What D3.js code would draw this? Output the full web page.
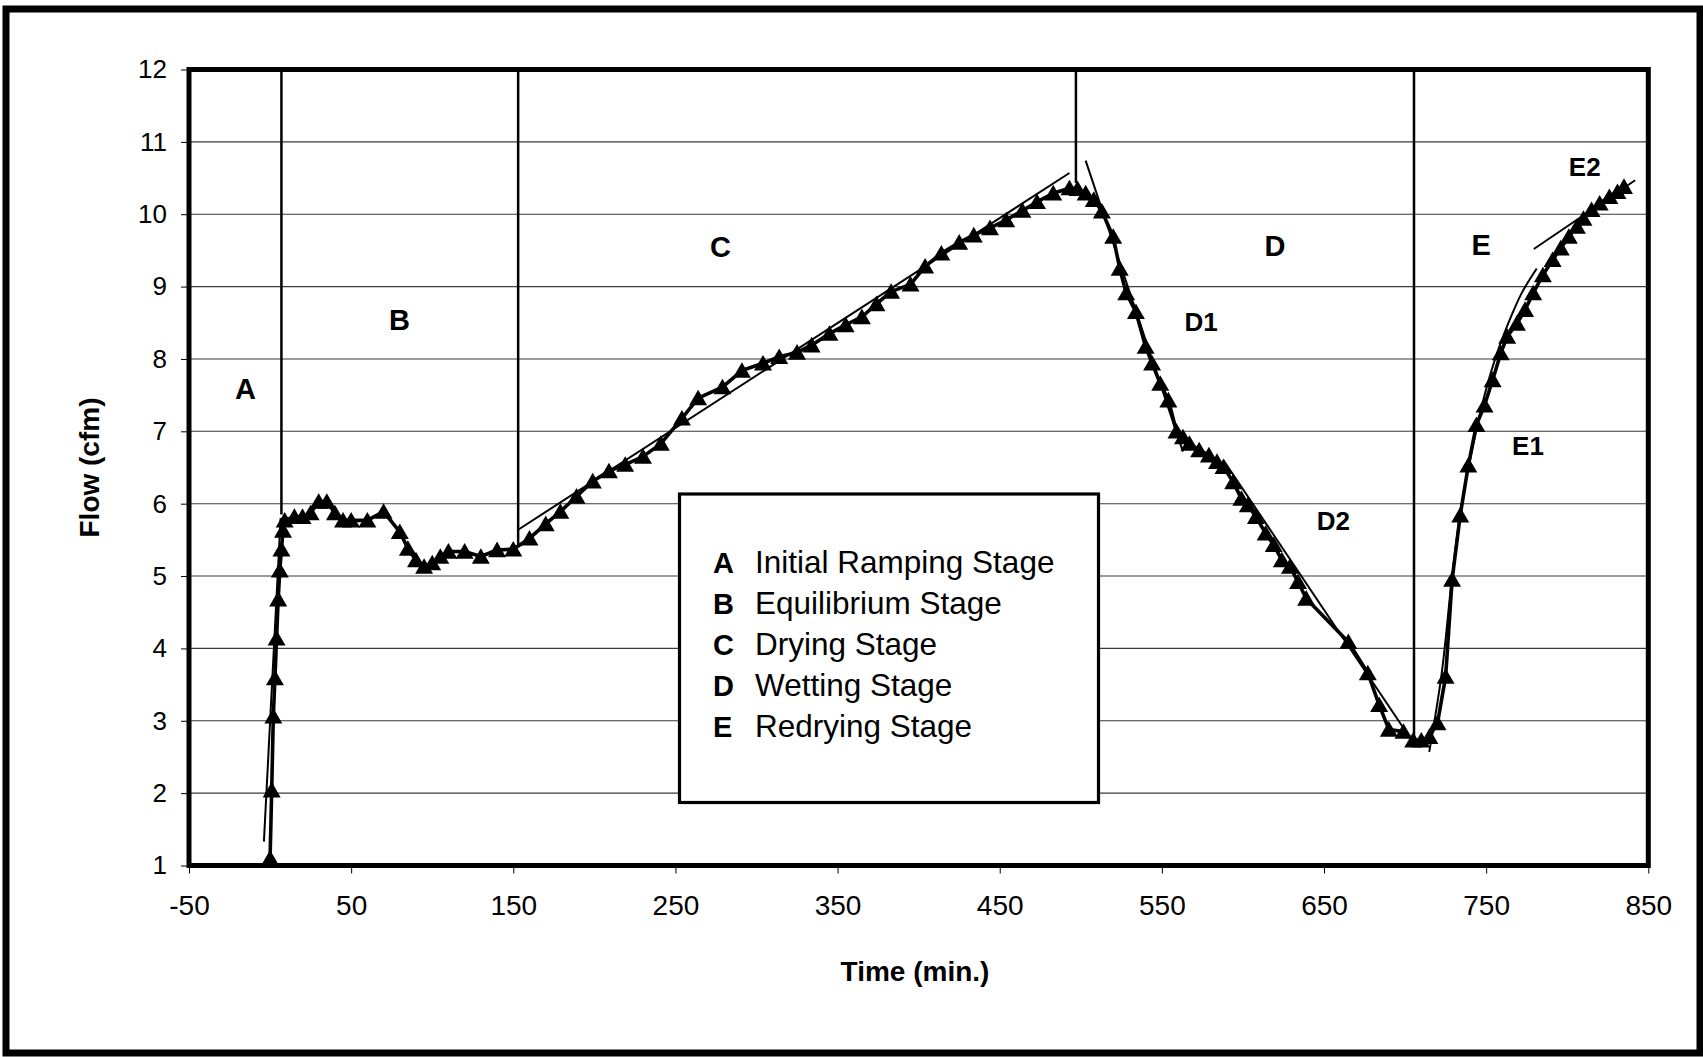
<!DOCTYPE html>
<html>
<head>
<meta charset="utf-8">
<script src="https://cdn.jsdelivr.net/npm/d3@7"></script>
<style>
  body { margin: 0; background: #fff; }
  svg { display: block; font-family: "Liberation Sans", Arial, sans-serif; }
</style>
</head>
<body>
<svg id="chart" width="1703" height="1057"></svg>
<script>
"use strict";

const times = [
  0, 1, 2, 3, 4, 5, 6, 7, 8, 9,
  15, 20, 25, 30, 35, 40, 45, 50, 60, 70, 80, 85, 90, 95, 100, 105, 110, 120, 130, 140, 150,
  160, 170, 179, 189, 199, 209, 219, 230, 241, 254, 264, 279, 291, 304, 314, 325, 334, 345,
  355, 365, 374, 383, 395, 404, 414, 425, 434, 444, 454, 464, 473, 483, 493,
  498, 503, 508, 513, 520, 524, 528, 534, 540, 544, 549, 554, 559, 563, 567, 573, 579, 584,
  588, 594, 599, 603, 608, 614, 619, 624, 629, 634, 639, 665, 677, 684, 690, 699, 705, 710,
  715, 720, 725, 729, 734, 739, 744, 749, 754, 759, 763, 769, 774, 779, 785, 791, 796, 801,
  806, 810, 815, 820, 826, 831, 835
];
const flows = [
  1.1, 2.04, 3.06, 3.59, 4.14, 4.68, 5.08, 5.37, 5.63, 5.77,
  5.82, 5.82, 5.87, 6.03, 6.03, 5.87, 5.77, 5.77, 5.77, 5.89, 5.61, 5.38, 5.22, 5.13, 5.18, 5.27, 5.34, 5.34, 5.27, 5.36, 5.37,
  5.52, 5.72, 5.89, 6.10, 6.31, 6.45, 6.54, 6.65, 6.83, 7.18, 7.46, 7.61, 7.84, 7.94, 8.03, 8.09, 8.19, 8.35,
  8.47, 8.58, 8.76, 8.93, 9.03, 9.28, 9.46, 9.61, 9.71, 9.81, 9.92, 10.05, 10.17, 10.29, 10.36,
  10.35, 10.29, 10.2, 10.04, 9.69, 9.25, 8.91, 8.65, 8.17, 7.94, 7.66, 7.43, 7.0, 6.92, 6.83, 6.74, 6.67, 6.58,
  6.51, 6.30, 6.07, 5.98, 5.82, 5.59, 5.43, 5.22, 5.13, 4.92, 4.69, 4.09, 3.66, 3.22, 2.88, 2.85, 2.73, 2.73,
  2.78, 2.97, 3.61, 4.95, 5.84, 6.53, 7.09, 7.36, 7.71, 8.08, 8.31, 8.49, 8.68, 8.91, 9.16, 9.37, 9.53, 9.69,
  9.83, 9.94, 10.06, 10.15, 10.24, 10.31, 10.38
];

// straight fit lines [t, flow] and the curved E1 fit
const fitA = [[-3.8, 1.33], [6.5, 5.8]];
const fitC = [[153, 5.64], [493, 10.57]];
const fitD1 = [[503, 10.74], [563, 6.72]];
const fitD2 = [[588, 6.6], [705, 2.7]];
const fitE1 = [[714.9, 2.57], [722.6, 3.66], [728.8, 4.95], [733.9, 5.84], [740.5, 6.65],
  [747.2, 7.34], [755.4, 7.99], [763.6, 8.49], [771.9, 8.91], [781.2, 9.25]];
const fitE2 = [[779.4, 9.52], [841.9, 10.47]];

// stage boundaries (time) and where each line stops
const dividerTimes = [7, 153, 497, 705.5];
const dividerEnds = [5.85, 5.4, 10.43, 2.72];

// labels inside the plot
const stageNames = ["A", "B", "C", "D", "E"];
const stageAt = [[-15.2, 7.59], [79.8, 8.54], [277.8, 9.56], [619.8, 9.57], [747, 9.58]];
const subNames = ["D1", "D2", "E1", "E2"];
const subAt = [[574.2, 8.51], [655.7, 5.76], [775.8, 6.8], [810.8, 10.66]];

const legendLetters = ["A", "B", "C", "D", "E"];
const legendTexts = ["Initial Ramping Stage", "Equilibrium Stage", "Drying Stage", "Wetting Stage", "Redrying Stage"];

const xTicks = [-50, 50, 150, 250, 350, 450, 550, 650, 750, 850];
const yTicks = [1, 2, 3, 4, 5, 6, 7, 8, 9, 10, 11, 12];

const svg = d3.select("#chart");

const x = d3.scaleLinear().domain([-50, 850]).range([189, 1648.3]);
const y = d3.scaleLinear().domain([1, 12]).range([865.5, 69.5]);

// outer frame
svg.append("rect")
  .attr("x", 6).attr("y", 9)
  .attr("width", 1694).attr("height", 1044)
  .attr("fill", "#fff")
  .attr("stroke", "#000")
  .attr("stroke-width", 7);

// gridlines
svg.append("g")
  .selectAll("line")
  .data(yTicks.slice(1, -1))
  .join("line")
  .attr("x1", x(-50)).attr("x2", x(850))
  .attr("y1", d => y(d)).attr("y2", d => y(d))
  .attr("stroke", "#3a3a3a")
  .attr("stroke-width", 1.1);

// axes (plain hyphen for negatives, like the original)
const yAxis = svg.append("g")
  .attr("transform", `translate(${x(-50)},0)`)
  .call(d3.axisLeft(y).tickValues(yTicks).tickFormat(d => String(d)).tickSize(8).tickPadding(14));
yAxis.select(".domain").remove();
yAxis.selectAll("text").style("font-size", "26px").attr("fill", "#000");
yAxis.selectAll("line").attr("stroke", "#000").attr("stroke-width", 1);

const xAxis = svg.append("g")
  .attr("transform", `translate(0,${y(1)})`)
  .call(d3.axisBottom(x).tickValues(xTicks).tickFormat(d => String(d)).tickSize(8).tickPadding(22));
xAxis.select(".domain").remove();
xAxis.selectAll("text").style("font-size", "28px").attr("fill", "#000");
xAxis.selectAll("line").attr("stroke", "#000").attr("stroke-width", 1);

// stage dividers
svg.append("g")
  .selectAll("line")
  .data(dividerTimes)
  .join("line")
  .attr("x1", d => x(d)).attr("x2", d => x(d))
  .attr("y1", y(12))
  .attr("y2", (d, i) => y(dividerEnds[i]))
  .attr("stroke", "#000")
  .attr("stroke-width", 2.5);

// fit lines
const fitLine = d3.line().x(d => x(d[0])).y(d => y(d[1]));
svg.append("g")
  .selectAll("path")
  .data([fitA, fitC, fitD1, fitD2, fitE2])
  .join("path")
  .attr("d", fitLine)
  .attr("fill", "none")
  .attr("stroke", "#000")
  .attr("stroke-width", 2);

svg.append("path")
  .attr("d", fitLine.curve(d3.curveCatmullRom)(fitE1))
  .attr("fill", "none")
  .attr("stroke", "#000")
  .attr("stroke-width", 2);

// data line + triangle markers
const pts = times.map((t, i) => [t, flows[i]]);
svg.append("path")
  .attr("d", d3.line().x(d => x(d[0])).y(d => y(d[1]))(pts))
  .attr("fill", "none")
  .attr("stroke", "#000")
  .attr("stroke-width", 3.6)
  .attr("stroke-linejoin", "round");

svg.append("g")
  .selectAll("path")
  .data(pts)
  .join("path")
  .attr("d", d3.symbol().type(d3.symbolTriangle).size(140))
  .attr("transform", d => `translate(${x(d[0])},${y(d[1]) + 2})`)
  .attr("fill", "#000");

// plot border
svg.append("rect")
  .attr("x", x(-50)).attr("y", y(12))
  .attr("width", x(850) - x(-50))
  .attr("height", y(1) - y(12))
  .attr("fill", "none")
  .attr("stroke", "#000")
  .attr("stroke-width", 5);

// stage letters
svg.append("g")
  .selectAll("text")
  .data(stageNames)
  .join("text")
  .attr("x", (d, i) => x(stageAt[i][0]))
  .attr("y", (d, i) => y(stageAt[i][1]))
  .attr("dy", "0.36em")
  .attr("text-anchor", "middle")
  .style("font-size", "29px")
  .style("font-weight", "bold")
  .text(d => d);

svg.append("g")
  .selectAll("text")
  .data(subNames)
  .join("text")
  .attr("x", (d, i) => x(subAt[i][0]))
  .attr("y", (d, i) => y(subAt[i][1]))
  .attr("dy", "0.36em")
  .attr("text-anchor", "middle")
  .style("font-size", "26px")
  .style("font-weight", "bold")
  .text(d => d);

// legend box
const legend = svg.append("g");
legend.append("rect")
  .attr("x", 679.5).attr("y", 494)
  .attr("width", 419).attr("height", 308.5)
  .attr("fill", "#fff")
  .attr("stroke", "#000")
  .attr("stroke-width", 3.2);

const rows = legend.selectAll("g")
  .data(legendTexts)
  .join("g")
  .attr("transform", (d, i) => `translate(0,${573 + i * 41})`);
rows.append("text")
  .attr("x", 713)
  .style("font-size", "29px")
  .style("font-weight", "bold")
  .text((d, i) => legendLetters[i]);
rows.append("text")
  .attr("x", 755)
  .style("font-size", "31.5px")
  .text(d => d);

// axis titles
svg.append("text")
  .attr("x", 915).attr("y", 981)
  .attr("text-anchor", "middle")
  .style("font-size", "28px")
  .style("font-weight", "bold")
  .text("Time (min.)");

svg.append("text")
  .attr("transform", `translate(99,${(y(1) + y(12)) / 2}) rotate(-90)`)
  .attr("text-anchor", "middle")
  .style("font-size", "28px")
  .style("font-weight", "bold")
  .text("Flow (cfm)");
</script>
</body>
</html>
